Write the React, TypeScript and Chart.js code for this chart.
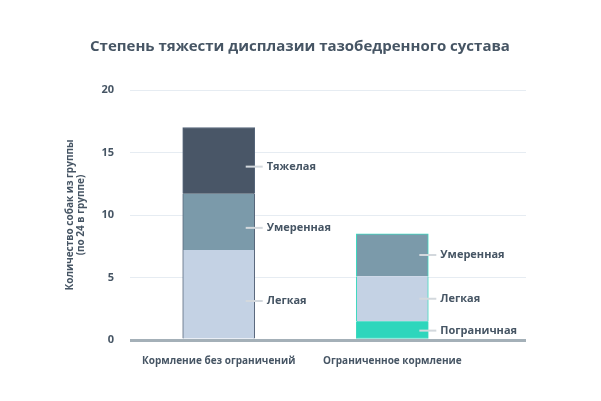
import React, { useEffect, useRef } from "react";
import { Chart, registerables } from "chart.js";

Chart.register(...registerables);

const TITLE = "Степень тяжести дисплазии тазобедренного сустава";
const Y_TITLE = ["Количество собак из группы", "(по 24 в группе)"];
const CATEGORIES = ["Кормление без ограничений", "Ограниченное кормление"];
const SERIES_NAMES = ["Пограничная", "Легкая", "Умеренная", "Тяжелая"];
const BORDERLINE = [0, 1.5];
const MILD = [7.2, 3.6];
const MODERATE = [4.5, 3.4];
const SEVERE = [5.3, 0];
const Y_TICKS = [0, 5, 10, 15, 20];

const SERIES_VALUES = [BORDERLINE, MILD, MODERATE, SEVERE];
const SERIES_COLORS = ["#2ed6bc", "#c4d2e4", "#7b9aaa", "#495667"];
const BAR_BORDERS = ["#56657a", "#3fd8c0"];
const TEXT = "#465564";
const FONT = "'Open Sans', 'DejaVu Sans', sans-serif";
const LABEL_OFFSETS = [6, 0];

const annotationPlugin = {
  id: "segLabels",
  afterDatasetsDraw(chart: any) {
    const ctx = chart.ctx;
    const y = chart.scales.y;
    ctx.save();
    ctx.fillStyle = TEXT;
    ctx.font = `bold 15px ${FONT}`;
    ctx.textAlign = "center";
    ctx.textBaseline = "middle";
    ctx.fillText(TITLE, 300, 47);
    CATEGORIES.forEach((_, ci) => {
      let base = 0;
      SERIES_VALUES.forEach((vals, si) => {
        const v = vals[ci];
        if (v > 0) {
          const meta = chart.getDatasetMeta(si);
          const el = meta.data[ci];
          const right = el.x + el.width / 2;
          const py = y.getPixelForValue(base + v / 2) + LABEL_OFFSETS[ci];
          ctx.strokeStyle = "#d3d8dd";
          ctx.lineWidth = 2;
          ctx.beginPath();
          ctx.moveTo(right - 9, py);
          ctx.lineTo(right + 8, py);
          ctx.stroke();
          ctx.fillStyle = TEXT;
          ctx.font = `bold 11px ${FONT}`;
          ctx.textAlign = "left";
          ctx.textBaseline = "middle";
          ctx.fillText(SERIES_NAMES[si], right + 12, py);
        }
        base += v;
      });
    });
    ctx.restore();
  },
};

export default function App() {
  const ref = useRef<HTMLCanvasElement>(null);
  useEffect(() => {
    const chart = new Chart(ref.current!, {
      type: "bar",
      data: {
        datasets: SERIES_VALUES.map((vals, si) => ({
          label: SERIES_NAMES[si],
          data: vals.map((v, i) => ({ x: i, y: v })),
          backgroundColor: SERIES_COLORS[si],
          borderColor: BAR_BORDERS,
          borderWidth: 1,
          borderSkipped: "middle" as any,
          barThickness: 72,
        })),
      },
      plugins: [annotationPlugin],
      options: {
        responsive: false,
        animation: false,
        layout: { padding: { left: 65, right: 75, top: 90, bottom: 30 } },
        plugins: {
          legend: { display: false },
          tooltip: { enabled: false },
          title: { display: false },
        },
        scales: {
          x: {
            type: "linear",
            stacked: true,
            offset: false,
            bounds: "data",
            min: -0.511,
            max: 1.77,
            grid: { display: false },
            border: { display: false },
            afterBuildTicks: (s: any) => {
              s.ticks = CATEGORIES.map((_, i) => ({ value: i }));
            },
            afterFit: (s: any) => {
              s.height = 31;
            },
            ticks: {
              autoSkip: false,
              maxRotation: 0,
              padding: 7,
              color: TEXT,
              font: { family: FONT, size: 10, weight: "bold" },
              callback: (v: any) => CATEGORIES[v] ?? "",
            },
          },
          y: {
            stacked: true,
            min: 0,
            max: 20,
            afterBuildTicks: (s: any) => {
              s.ticks = Y_TICKS.map((v) => ({ value: v }));
            },
            afterFit: (s: any) => {
              s.width = 65;
            },
            border: { display: false },
            grid: {
              drawTicks: false,
              color: (c: any) => (c.tick && c.tick.value === 0 ? "#a4b0b8" : "#e6ecf2"),
              lineWidth: (c: any) => (c.tick && c.tick.value === 0 ? 3 : 1),
            },
            ticks: {
              padding: 16,
              color: TEXT,
              font: { family: FONT, size: 11, weight: "bold" },
            },
            title: {
              display: true,
              text: Y_TITLE,
              color: TEXT,
              padding: 0,
              font: { family: FONT, size: 10, weight: "bold", lineHeight: 1.1 },
            },
          },
        },
      },
    });
    return () => chart.destroy();
  }, []);
  return (
    <div style={{ position: "fixed", left: 0, top: 0, background: "#fff" }}>
      <canvas ref={ref} width={601} height={401} style={{ width: 601, height: 401 }} />
    </div>
  );
}
